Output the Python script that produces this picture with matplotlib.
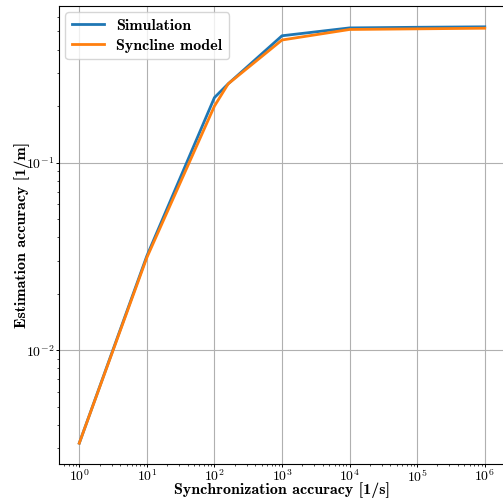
import matplotlib
matplotlib.use("Agg")
import matplotlib.pyplot as plt
from matplotlib.ticker import LogLocator, NullFormatter

plt.rcParams['font.family'] = 'serif'
plt.rcParams['font.serif'] = ['cmr10']
plt.rcParams['mathtext.fontset'] = 'cm'
plt.rcParams['axes.formatter.use_mathtext'] = True

# synchronization accuracy values
sync_acc = [1, 10, 100, 160, 1e3, 1e4, 1e5, 1e6]
# estimation accuracy, simulation vs model
sim_acc = [0.0032, 0.0318, 0.222, 0.263, 0.474, 0.522, 0.526, 0.529]
model_acc = [0.0032, 0.0312, 0.200, 0.263, 0.450, 0.512, 0.516, 0.520]

fig = plt.figure(figsize=(5.03, 5.01), dpi=100)
ax = fig.add_axes([59 / 503, 37 / 501, 446 / 503, 458 / 501])

ax.plot(sync_acc, sim_acc, color='#1f77b4', lw=2, label='Simulation')
ax.plot(sync_acc, model_acc, color='#ff7f0e', lw=2, label='Syncline model')
ax.set_xscale('log')
ax.set_yscale('log')
ax.xaxis.set_minor_locator(LogLocator(base=10, subs=range(2, 10), numticks=100))
ax.xaxis.set_minor_formatter(NullFormatter())
ax.grid(True, which='major')

ax.set_xlabel('Synchronization accuracy [1/s]', family='cmb10', fontsize=11.5)
ax.set_ylabel('Estimation accuracy [1/m]', family='cmb10', fontsize=11.5)
ax.xaxis.set_label_coords(0.5, -0.039)
ax.yaxis.set_label_coords(-0.066, 0.5)
ax.tick_params(which='major', labelsize=10, length=2.5, width=0.7, pad=0.8)
ax.tick_params(which='minor', length=1.6, width=0.5)
ax.legend(loc='upper left', prop={'family': 'cmb10', 'size': 11.5},
          labelspacing=0.35, borderaxespad=0.4)

fig.savefig('out.png', dpi=100)
